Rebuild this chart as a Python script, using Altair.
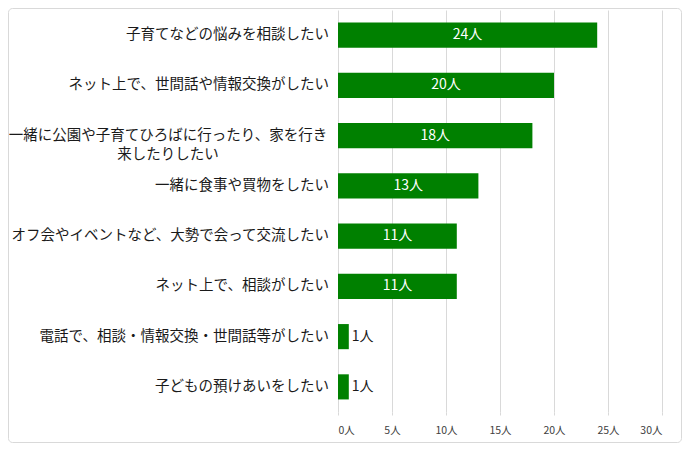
import altair as alt
import pandas as pd

categories = [
    "子育てなどの悩みを相談したい",
    "ネット上で、世間話や情報交換がしたい",
    "一緒に公園や子育てひろばに行ったり、家を行き\n来したりしたい",
    "一緒に食事や買物をしたい",
    "オフ会やイベントなど、大勢で会って交流したい",
    "ネット上で、相談がしたい",
    "電話で、相談・情報交換・世間話等がしたい",
    "子どもの預けあいをしたい",
]
values = [24, 20, 18, 13, 11, 11, 1, 1]
x_ticks = [0, 5, 10, 15, 20, 25, 30]

df = pd.DataFrame({"cat": categories, "value": values})
df["wrap"] = df["cat"].str.contains("\n")
df["vlabel"] = df["value"].astype(str) + "人"
df["inside"] = df["value"] >= 5

W, H = 324, 402
FONT = "Noto Sans CJK JP"

y_enc = alt.Y("cat:N", sort=categories, axis=None,
              scale=alt.Scale(paddingInner=0.5, paddingOuter=0.25))

base = alt.Chart(df)

bars = base.mark_bar(color="#008000").encode(
    x=alt.X("value:Q", scale=alt.Scale(domain=[0, 30]),
            axis=alt.Axis(values=x_ticks, labelExpr="datum.value + '人'",
                          grid=True, gridColor="#d9d9d9", domain=False,
                          ticks=True, tickColor="#d9d9d9", tickSize=3,
                          labelFontSize=10.5, labelColor="#404040",
                          labelFont=FONT, labelPadding=10, title=None)),
    y=y_enc,
)

inside = base.transform_filter("datum.inside").mark_text(
    color="white", fontSize=14, font=FONT, align="center", baseline="middle"
).encode(
    x=alt.X("half:Q"),
    y=y_enc,
    text="vlabel:N",
).transform_calculate(half="datum.value / 2")

outside = base.transform_filter("!datum.inside").mark_text(
    color="#1a1a1a", fontSize=14, font=FONT, align="left", baseline="middle", dx=3
).encode(
    x="value:Q",
    y=y_enc,
    text="vlabel:N",
)

ylab = base.transform_filter("!datum.wrap").mark_text(
    color="#1a1a1a", fontSize=14.5, font=FONT, align="right", baseline="middle"
).encode(
    x=alt.value(-9),
    y=y_enc,
    text="cat:N",
)

ylab_wrap = base.transform_filter("datum.wrap").mark_text(
    color="#1a1a1a", fontSize=14.5, font=FONT, align="center", baseline="middle",
    lineBreak="\n", lineHeight=19
).encode(
    x=alt.value(-170),
    y=y_enc,
    text="cat:N",
)

border = alt.Chart(pd.DataFrame({"a": [0]})).mark_rect(
    filled=False, stroke="#d9d9d9", strokeWidth=1, cornerRadius=4
).encode(
    x=alt.value(-329.5), x2=alt.value(W + 19.5),
    y=alt.value(-1.5), y2=alt.value(H + 30.5),
)

chart = alt.layer(bars, inside, outside, ylab, ylab_wrap, border).properties(
    width=W, height=H,
    autosize=alt.AutoSizeParams(type="none"),
    padding={"left": 330, "top": 2, "right": 20, "bottom": 31},
).configure_view(stroke=None)

chart.save("out.html", embed_options={"renderer": "svg", "actions": False})
